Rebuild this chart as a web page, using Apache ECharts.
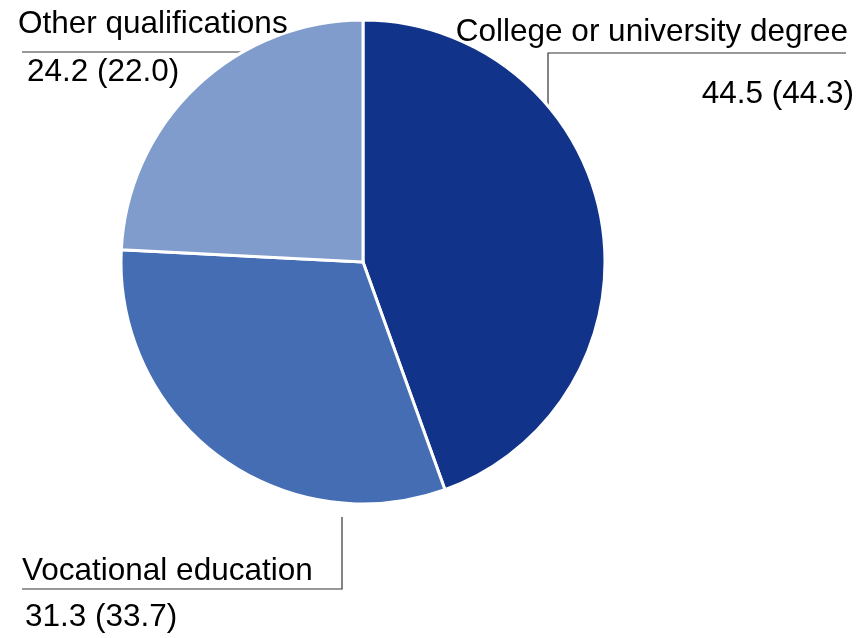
<!DOCTYPE html>
<html>
<head>
<meta charset="utf-8">
<script src="https://cdn.jsdelivr.net/npm/echarts@6/dist/echarts.min.js"></script>
<style>html,body{margin:0;padding:0;background:#fff;}#c{width:859px;height:638px;}</style>
</head>
<body>
<div id="c"></div>
<script>
var categories = ['College or university degree', 'Vocational education', 'Other qualifications'];
var values = [44.5, 31.3, 24.2];
var previousValues = [44.3, 33.7, 22.0];
var colors = ['#12338A', '#446DB3', '#7F9CCC'];

// label placements (layout only)
var labelPos = [
  {x: 854, y: 1, align: 'right', gap: 62, nPad: [0, 6, 0, 0], vPad: [0, 0, 0, 0], line: [[548, 106], [548, 53], [846, 53]]},
  {x: 22, y: 548, align: 'left', gap: 46, nPad: [0, 0, 0, 0], vPad: [0, 0, 0, 3], line: [[342, 517], [342, 589], [22, 589]]},
  {x: 18, y: 0, align: 'left', gap: 48, nPad: [0, 0, 0, 0], vPad: [0, 0, 0, 9], line: [[243, 52], [130, 52], [22, 52]]}
];

var FONT = 'Liberation Sans, Arial, sans-serif';
var data = categories.map(function (name, i) {
  var p = labelPos[i];
  return {
    name: name,
    value: values[i],
    itemStyle: {color: colors[i]},
    label: {
      formatter: '{n|' + name + '}\n{v|' + values[i].toFixed(1) + ' (' + previousValues[i].toFixed(1) + ')}',
      align: p.align,
      rich: {
        n: {fontSize: 31.5, lineHeight: p.gap, color: '#000', fontFamily: FONT, padding: p.nPad},
        v: {fontSize: 31.5, lineHeight: p.gap, color: '#000', fontFamily: FONT, padding: p.vPad}
      }
    }
  };
});

var chart = echarts.init(document.getElementById('c'));
chart.setOption({
  animation: false,
  series: [{
    type: 'pie',
    center: [363, 262],
    radius: 242,
    startAngle: 90,
    clockwise: true,
    avoidLabelOverlap: false,
    itemStyle: {borderColor: '#fff', borderWidth: 3},
    emphasis: {disabled: true},
    label: {show: true, position: 'outside', color: '#000'},
    labelLine: {show: true, lineStyle: {color: '#333', width: 1.2}},
    labelLayout: function (params) {
      var p = labelPos[params.dataIndex];
      return {x: p.x, y: p.y, align: p.align, verticalAlign: 'top', labelLinePoints: p.line};
    },
    data: data
  }]
});
</script>
</body>
</html>
